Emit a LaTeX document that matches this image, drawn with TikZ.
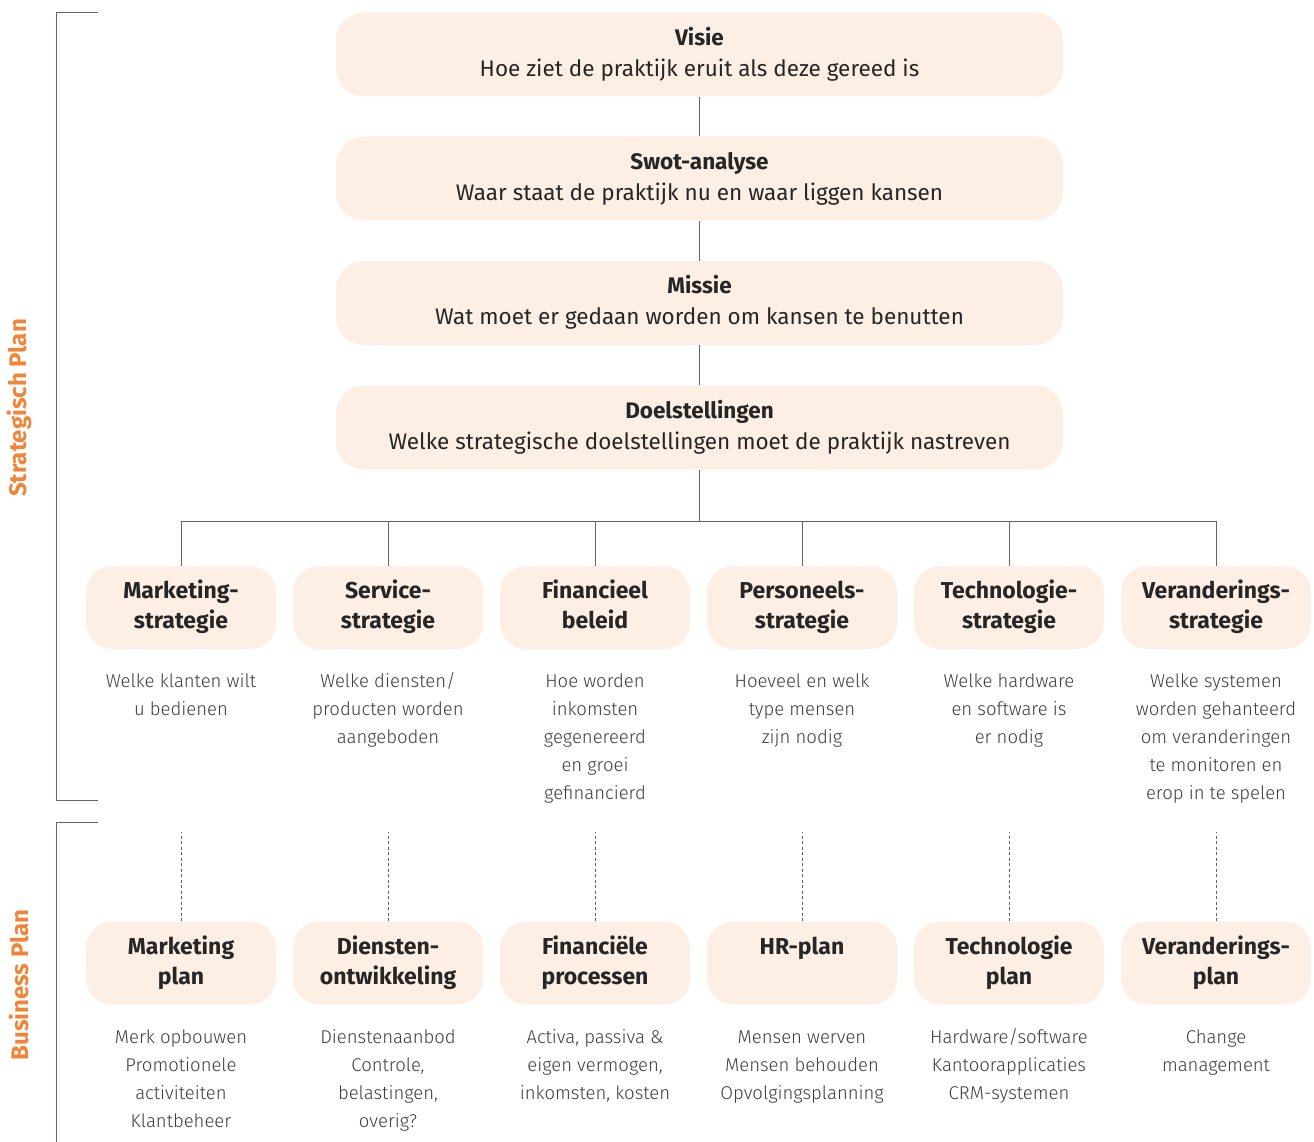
\documentclass[tikz,border=0pt]{standalone}
\usepackage{fontspec}
\setmainfont{Fira Sans}
\newfontfamily\lightfont{Fira Sans Light}
\definecolor{boxfill}{HTML}{FDEFE3}
\definecolor{linegray}{HTML}{5F6670}
\definecolor{titletext}{HTML}{262626}
\definecolor{bodytext}{HTML}{3C3C3C}
\definecolor{accent}{HTML}{F0853A}
\tikzset{
  topbox/.style={rounded corners=28pt, fill=boxfill, minimum width=727pt, minimum height=84pt, align=center, text=titletext, font=\fontsize{22.5}{31}\selectfont},
  stratbox/.style={rounded corners=26pt, fill=boxfill, minimum width=190pt, minimum height=83pt, align=center, text=titletext, font=\fontsize{23}{30}\selectfont\bfseries},
  bodytxt/.style={align=center, anchor=base, text=bodytext, inner sep=0pt, font=\fontsize{18.5}{28}\selectfont\lightfont},
  conn/.style={draw=linegray, line width=1pt},
  dconn/.style={draw=linegray, line width=0.8pt, dash pattern=on 3pt off 2.5pt},
  sidelabel/.style={rotate=90, text=accent, font=\fontsize{24}{26}\selectfont\bfseries}
}
\begin{document}
\begin{tikzpicture}[x=1pt,y=-1pt]
\useasboundingbox (0,0) rectangle (1314,1142);
% brackets
\draw[conn] (98,13) -- (56,13) -- (56,800) -- (98,800);
\draw[conn] (98,822) -- (56,822) -- (56,1142);
\node[sidelabel] (lblS) at (19,408) {Strategisch Plan};
\node[sidelabel] (lblB) at (19,985) {Business Plan};
% top boxes
\node[topbox] (visie) at (699.5,54.5) {\strut\textbf{Visie}\\Hoe ziet de praktijk eruit als deze gereed is\strut};
\node[topbox] (swot) at (699.5,178.5) {\strut\textbf{Swot-analyse}\\Waar staat de praktijk nu en waar liggen kansen\strut};
\node[topbox] (missie) at (699.5,303) {\strut\textbf{Missie}\\Wat moet er gedaan worden om kansen te benutten\strut};
\node[topbox] (doel) at (699.5,427.5) {\strut\textbf{Doelstellingen}\\Welke strategische doelstellingen moet de praktijk nastreven\strut};
\draw[conn] (visie) -- (swot);
\draw[conn] (swot) -- (missie);
\draw[conn] (missie) -- (doel);
% strategy boxes
\node[stratbox] (s1) at (181,607.5) {\strut Marketing-\\strategie\strut};
\node[stratbox] (s2) at (388,607.5) {\strut Service-\\strategie\strut};
\node[stratbox] (s3) at (595,607.5) {\strut Financieel\\beleid\strut};
\node[stratbox] (s4) at (802,607.5) {\strut Personeels-\\strategie\strut};
\node[stratbox] (s5) at (1009,607.5) {\strut Technologie-\\strategie\strut};
\node[stratbox] (s6) at (1216,607.5) {\strut Veranderings-\\strategie\strut};
\coordinate (bus) at (699,521);
\draw[conn] (doel.south) -- (doel.south |- bus);
\draw[conn] (s1.north) -- (s1.north |- bus) -- (s6.north |- bus) -- (s6.north);
\foreach \n in {s2,s3,s4,s5}{\draw[conn] (\n.north) -- (\n.north |- bus);}
% strategy descriptions (anchor = baseline of last line)
\node[bodytxt] (t1) at (181,715) {Welke klanten wilt\\u bedienen};
\node[bodytxt] (t2) at (388,743) {Welke diensten/\\producten worden\\aangeboden};
\node[bodytxt] (t3) at (595,799) {Hoe worden\\inkomsten\\gegenereerd\\en groei\\gefinancierd};
\node[bodytxt] (t4) at (802,743) {Hoeveel en welk\\type mensen\\zijn nodig};
\node[bodytxt] (t5) at (1009,743) {Welke hardware\\en software is\\er nodig};
\node[bodytxt] (t6) at (1216,799) {Welke systemen\\worden gehanteerd\\om veranderingen\\te monitoren en\\erop in te spelen};
% business plan boxes
\node[stratbox] (b1) at (181,963) {\strut Marketing\\plan\strut};
\node[stratbox] (b2) at (388,963) {\strut Diensten-\\ontwikkeling\strut};
\node[stratbox] (b3) at (595,963) {\strut Financiële\\processen\strut};
\node[stratbox] (b4) at (802,963) {\strut HR-plan\\\strut};
\node[stratbox] (b5) at (1009,963) {\strut Technologie\\plan\strut};
\node[stratbox] (b6) at (1216,963) {\strut Veranderings-\\plan\strut};
\coordinate (dtop) at (0,832);
\foreach \n in {b1,b2,b3,b4,b5,b6}{\draw[dconn] (\n.north) -- (\n.north |- dtop);}
% business descriptions
\node[bodytxt] (u1) at (181,1127) {Merk opbouwen\\Promotionele\\activiteiten\\Klantbeheer};
\node[bodytxt] (u2) at (388,1127) {Dienstenaanbod\\Controle,\\belastingen,\\overig?};
\node[bodytxt] (u3) at (595,1099) {Activa, passiva \&\\eigen vermogen,\\inkomsten, kosten};
\node[bodytxt] (u4) at (802,1099) {Mensen werven\\Mensen behouden\\Opvolgingsplanning};
\node[bodytxt] (u5) at (1009,1099) {Hardware/software\\Kantoorapplicaties\\CRM-systemen};
\node[bodytxt] (u6) at (1216,1071) {Change\\management};
\end{tikzpicture}
\end{document}
